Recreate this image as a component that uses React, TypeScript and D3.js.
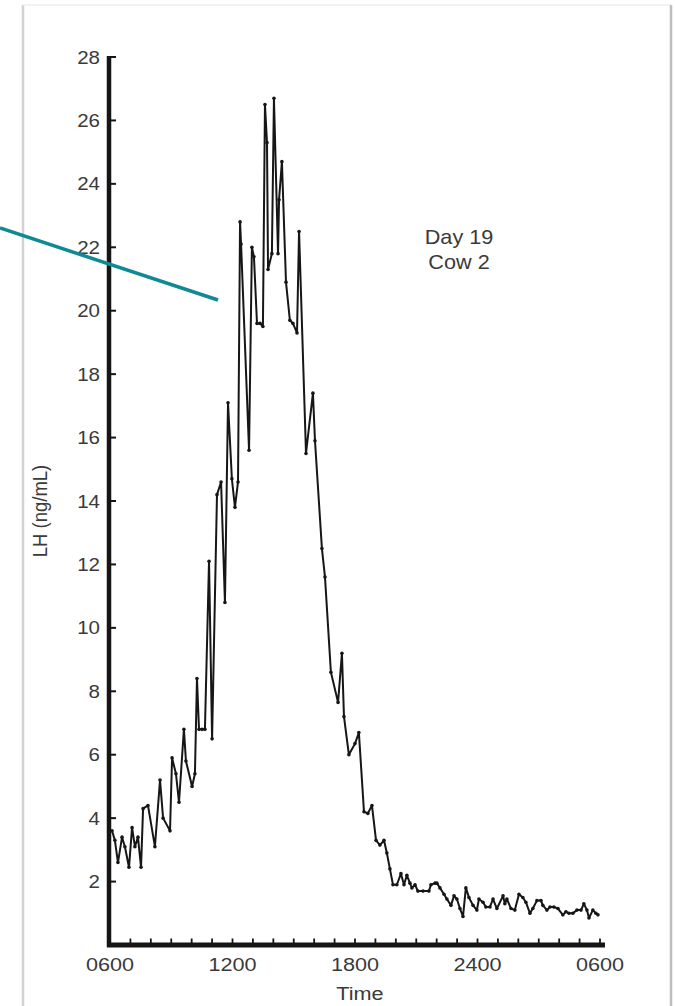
import React from "react";
import * as d3 from "d3";

const hoursFrom0600: number[] = [
  0.1, 0.24, 0.39, 0.59, 0.73, 0.93, 1.08, 1.22, 1.37, 1.52, 1.62, 1.86, 2.2, 2.45, 2.6, 2.94,
  3.04, 3.23, 3.38, 3.62, 3.72, 4.02, 4.16, 4.26, 4.36, 4.51, 4.65, 4.85, 5.0, 5.24, 5.44,
  5.63, 5.78, 5.97, 6.12, 6.27, 6.37, 6.42, 6.81, 6.95, 7.05, 7.2, 7.35, 7.49, 7.59, 7.69,
  7.74, 7.93, 8.03, 8.23, 8.28, 8.42, 8.62, 8.81, 8.96, 9.16, 9.26, 9.6, 9.94, 10.04, 10.38,
  10.53, 10.82, 11.17, 11.36, 11.46, 11.7, 12.0, 12.19, 12.44, 12.63, 12.83, 13.03, 13.22,
  13.42, 13.56, 13.71, 13.86, 14.05, 14.25, 14.4, 14.54, 14.69, 14.79, 14.94, 15.08, 15.33,
  15.62, 15.72, 15.92, 16.01, 16.16, 16.36, 16.5, 16.7, 16.85, 16.99, 17.14, 17.29, 17.43,
  17.58, 17.78, 17.97, 18.07, 18.27, 18.41, 18.61, 18.76, 18.95, 19.25, 19.34, 19.44, 19.64,
  19.83, 20.03, 20.22, 20.37, 20.57, 20.71, 20.91, 21.11, 21.2, 21.4, 21.55, 21.74, 21.94,
  22.18, 22.33, 22.48, 22.67, 22.87, 23.07, 23.21, 23.36, 23.46, 23.65, 23.8, 23.9,
];

const lhValues: number[] = [
  3.6, 3.3, 2.6, 3.4, 3.1, 2.45, 3.7, 3.1, 3.4, 2.45, 4.3, 4.4, 3.1, 5.2, 4.0, 3.6,
  5.9, 5.4, 4.5, 6.8, 5.8, 5.0, 5.4, 8.4, 6.8, 6.8, 6.8, 12.1, 6.5, 14.2, 14.6,
  10.8, 17.1, 14.7, 13.8, 14.6, 22.8, 22.1, 15.6, 22.0, 21.7, 19.6, 19.6, 19.5, 26.5, 25.3,
  21.3, 21.8, 26.7, 21.8, 23.5, 24.7, 20.9, 19.7, 19.6, 19.3, 22.5, 15.5, 17.4, 15.9, 12.5,
  11.6, 8.6, 7.65, 9.2, 7.2, 6.0, 6.35, 6.7, 4.2, 4.15, 4.4, 3.3, 3.15,
  3.3, 2.9, 2.4, 1.9, 1.9, 2.25, 1.9, 2.2, 1.95, 1.8, 1.9, 1.7, 1.7,
  1.7, 1.9, 1.95, 1.95, 1.8, 1.6, 1.45, 1.25, 1.55, 1.45, 1.15, 0.9, 1.8,
  1.5, 1.25, 1.1, 1.45, 1.35, 1.2, 1.2, 1.45, 1.15, 1.55, 1.3, 1.45, 1.15,
  1.1, 1.6, 1.5, 1.35, 1.0, 1.15, 1.4, 1.4, 1.25, 1.1, 1.2, 1.2, 1.15,
  0.95, 1.05, 1.0, 1.0, 1.1, 1.1, 1.3, 1.1, 0.85, 1.1, 1.0, 0.95,
];

const yTickValues: number[] = [2, 4, 6, 8, 10, 12, 14, 16, 18, 20, 22, 24, 26, 28];
const xTickHours: number[] = d3.range(1, 25);
const xLabelHours: number[] = [0, 6, 12, 18, 24];
const xLabelTexts: string[] = ["0600", "1200", "1800", "2400", "0600"];
const annotationLines: string[] = ["Day 19", "Cow 2"];
const yAxisTitle = "LH (ng/mL)";
const xAxisTitle = "Time";

const W = 675;
const H = 1006;
const FONT = "'Liberation Sans', Arial, Helvetica, sans-serif";
const TEXT_COLOR = "#3a3a3a";
const STRETCH = 1.14;

export default function App() {
  const x = d3.scaleLinear().domain([0, 24]).range([110, 600]);
  const y = d3.scaleLinear().domain([0, 28]).range([945, 57]);
  const axisX = 109;
  const axisY = 945;

  const pts = hoursFrom0600.map((h, i) => [h, lhValues[i]] as [number, number]);
  const line = d3
    .line<[number, number]>()
    .x((d) => x(d[0]))
    .y((d) => y(d[1]));

  return (
    <svg
      width={W}
      height={H}
      viewBox={`0 0 ${W} ${H}`}
      style={{ position: "absolute", left: 0, top: 0, background: "#fff" }}
    >
      {/* page frame */}
      <line x1={23} y1={5} x2={23} y2={H} stroke="#d2d2d2" strokeWidth={2.5} />
      <line x1={23} y1={5} x2={671} y2={5} stroke="#eeeeee" strokeWidth={1.5} />
      <line x1={671} y1={5} x2={671} y2={H} stroke="#bdbdbd" strokeWidth={2.5} />

      {/* y axis */}
      <line x1={axisX} y1={y(28) - 1} x2={axisX} y2={axisY + 2} stroke="#151515" strokeWidth={4.5} />
      {yTickValues.map((v) => (
        <g key={"yt" + v}>
          <line x1={axisX} x2={axisX + 7} y1={y(v)} y2={y(v)} stroke="#151515" strokeWidth={2} />
          <text
            transform={`translate(${axisX - 9},${y(v) + 6.5}) scale(${STRETCH},1)`}
            textAnchor="end"
            fontFamily={FONT}
            fontSize={18}
            fill={TEXT_COLOR}
          >
            {v}
          </text>
        </g>
      ))}

      {/* x axis */}
      <line x1={axisX - 2} y1={axisY} x2={605} y2={axisY} stroke="#151515" strokeWidth={5} />
      {xTickHours.map((h) => (
        <line
          key={"xt" + h}
          x1={x(h)}
          x2={x(h)}
          y1={axisY}
          y2={axisY - 6.5}
          stroke="#151515"
          strokeWidth={1.8}
        />
      ))}
      {xLabelHours.map((h, i) => (
        <text
          key={"xl" + i}
          transform={`translate(${x(h)},${971}) scale(${STRETCH},1)`}
          textAnchor="middle"
          fontFamily={FONT}
          fontSize={19}
          fill={TEXT_COLOR}
        >
          {xLabelTexts[i]}
        </text>
      ))}
      <text
        transform={`translate(${x(12) + 5},${1000}) scale(${STRETCH},1)`}
        textAnchor="middle"
        fontFamily={FONT}
        fontSize={19}
        fill={TEXT_COLOR}
      >
        {xAxisTitle}
      </text>

      {/* y title */}
      <text
        transform={`translate(47,${511}) rotate(-90) scale(1,${STRETCH})`}
        textAnchor="middle"
        fontFamily={FONT}
        fontSize={18.5}
        fill={TEXT_COLOR}
      >
        {yAxisTitle}
      </text>

      {/* annotation */}
      {annotationLines.map((t, i) => (
        <text
          key={"an" + i}
          transform={`translate(459,${244 + i * 24.5}) scale(${STRETCH * 0.95},1)`}
          textAnchor="middle"
          fontFamily={FONT}
          fontSize={20}
          fill={TEXT_COLOR}
        >
          {t}
        </text>
      ))}

      {/* data */}
      <path d={line(pts) || ""} fill="none" stroke="#161616" strokeWidth={2} strokeLinejoin="round" />
      {pts.map((d, i) => (
        <circle key={"p" + i} cx={x(d[0])} cy={y(d[1])} r={1.8} fill="#161616" />
      ))}

      {/* teal pointer */}
      <line x1={0} y1={228} x2={218} y2={300} stroke="#0f8a94" strokeWidth={3.5} />
    </svg>
  );
}
